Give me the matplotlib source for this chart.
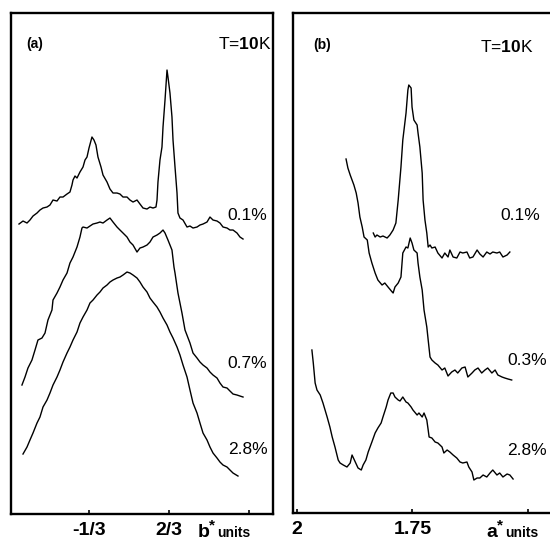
import matplotlib.pyplot as plt
from matplotlib import transforms

plt.rcParams['font.family'] = ['Liberation Sans', 'DejaVu Sans']
plt.rcParams['mathtext.fontset'] = 'custom'
plt.rcParams['mathtext.rm'] = 'Liberation Sans'
plt.rcParams['mathtext.bf'] = 'Liberation Sans:bold'

# (a) scans along b* (reciprocal lattice units), intensity in arbitrary units
a01_x = [-1.208, -1.158, -1.108, -1.071, -1.033, -0.983, -0.946, -0.908, -0.858, -0.821,
         -0.783, -0.733, -0.696, -0.658, -0.608, -0.571, -0.546, -0.533, -0.508, -0.483,
         -0.446, -0.408, -0.383, -0.358, -0.333, -0.296, -0.271, -0.246, -0.221, -0.183,
         -0.158, -0.108, -0.071, -0.033, 0.017, 0.054, 0.092, 0.142, 0.179, 0.217,
         0.267, 0.304, 0.342, 0.392, 0.429, 0.467, 0.504, 0.517, 0.529, 0.554,
         0.579, 0.592, 0.617, 0.642, 0.654, 0.679, 0.704, 0.717, 0.742, 0.767,
         0.779, 0.804, 0.842, 0.892, 0.929, 0.967, 1.017, 1.054, 1.092, 1.142,
         1.179, 1.217, 1.267, 1.304, 1.342, 1.392, 1.429, 1.467, 1.517, 1.554, 1.592]
a01_y = [58.0, 58.6, 58.2, 58.8, 59.6, 60.2, 60.8, 61.2, 61.4, 61.8,
         62.8, 62.6, 63.4, 63.4, 64.0, 64.4, 65.8, 66.8, 67.6, 67.2,
         68.4, 69.4, 70.8, 71.4, 73.2, 75.4, 74.8, 73.8, 71.4, 69.4,
         67.8, 66.4, 65.0, 64.2, 64.2, 64.0, 63.4, 63.4, 62.8, 62.4,
         62.8, 62.0, 61.2, 61.0, 61.4, 61.2, 61.4, 62.8, 66.4, 70.8,
         73.4, 77.4, 82.8, 88.8, 87.4, 84.2, 79.4, 74.8, 69.4, 64.2,
         60.2, 59.2, 58.8, 57.4, 57.6, 57.2, 57.4, 57.8, 58.0, 58.4,
         59.4, 58.8, 58.6, 58.2, 57.4, 57.2, 56.8, 56.8, 56.2, 55.4, 55.0]

a07_x = [-1.171, -1.133, -1.096, -1.046, -1.008, -0.971, -0.921, -0.883, -0.846, -0.796,
         -0.783, -0.733, -0.696, -0.658, -0.608, -0.571, -0.533, -0.483, -0.446, -0.421,
         -0.408, -0.358, -0.321, -0.283, -0.233, -0.196, -0.158, -0.108, -0.071, -0.033,
         0.017, 0.054, 0.092, 0.142, 0.179, 0.217, 0.267, 0.304, 0.342, 0.392,
         0.429, 0.467, 0.517, 0.554, 0.592, 0.617, 0.654, 0.704, 0.729, 0.742,
         0.779, 0.829, 0.867, 0.929, 0.967, 1.017, 1.054, 1.092, 1.142, 1.179,
         1.217, 1.267, 1.304, 1.342, 1.392, 1.429, 1.467, 1.517, 1.554, 1.592]
a07_y = [25.8, 27.4, 29.2, 30.8, 32.8, 34.8, 35.2, 36.2, 38.8, 40.8,
         42.8, 44.2, 45.4, 46.8, 48.2, 50.2, 51.4, 53.4, 55.4, 57.2,
         57.4, 57.2, 57.6, 58.0, 58.2, 58.4, 58.2, 58.8, 59.2, 58.4,
         57.4, 56.8, 56.2, 55.4, 54.4, 53.8, 52.4, 53.2, 53.4, 53.8,
         54.4, 55.4, 55.8, 56.2, 56.8, 56.2, 54.8, 52.8, 49.4, 48.2,
         44.2, 40.2, 36.8, 34.2, 32.2, 31.2, 30.4, 29.8, 29.2, 28.4,
         27.8, 27.2, 26.2, 25.4, 25.2, 24.6, 24.0, 23.8, 23.6, 23.4]

a28_x = [-1.158, -1.108, -1.071, -1.033, -0.983, -0.946, -0.908, -0.858, -0.821, -0.783,
         -0.733, -0.696, -0.658, -0.608, -0.571, -0.533, -0.483, -0.446, -0.408, -0.358,
         -0.321, -0.283, -0.233, -0.196, -0.158, -0.108, -0.071, -0.033, 0.017, 0.054,
         0.092, 0.142, 0.179, 0.217, 0.267, 0.304, 0.342, 0.392, 0.429, 0.467,
         0.517, 0.554, 0.592, 0.642, 0.679, 0.717, 0.767, 0.804, 0.842, 0.892,
         0.929, 0.967, 1.017, 1.054, 1.092, 1.142, 1.179, 1.217, 1.267, 1.304,
         1.342, 1.392, 1.429, 1.467, 1.529]
a28_y = [12.0, 13.4, 14.8, 16.2, 18.2, 19.4, 21.4, 22.8, 24.2, 25.8,
         27.4, 28.8, 30.4, 32.2, 33.4, 34.8, 36.4, 38.2, 39.4, 40.8,
         42.2, 42.8, 43.8, 44.4, 45.2, 45.8, 46.4, 46.8, 47.2, 47.4,
         47.8, 48.4, 48.2, 47.8, 47.2, 46.4, 45.4, 44.4, 43.2, 42.4,
         41.4, 40.4, 39.2, 37.8, 36.4, 35.2, 33.4, 31.8, 29.8, 27.4,
         24.8, 22.2, 20.2, 18.2, 16.2, 14.8, 13.4, 12.2, 11.2, 10.4,
         9.8, 9.4, 8.8, 8.2, 7.6]

# (b) scans along a*
b01_x = [1.835, 1.831, 1.827, 1.820, 1.814, 1.805, 1.799, 1.792, 1.786, 1.781,
         1.775, 1.771, 1.764, 1.760, 1.758, 1.753, 1.751, 1.747, 1.740, 1.738,
         1.734, 1.729, 1.727, 1.723, 1.719, 1.716, 1.712, 1.708, 1.701, 1.695,
         1.686, 1.680, 1.673, 1.669, 1.662, 1.654, 1.647, 1.641, 1.632, 1.626,
         1.619, 1.610, 1.604, 1.597, 1.589, 1.582, 1.576, 1.567, 1.561, 1.554,
         1.545, 1.539]
b01_y = [56.0, 55.2, 55.6, 55.2, 55.4, 55.0, 55.6, 56.6, 58.0, 62.6,
         69.2, 74.6, 80.0, 84.6, 85.6, 85.0, 81.2, 78.6, 77.6, 76.0,
         73.2, 68.0, 62.6, 58.6, 56.0, 53.2, 53.6, 53.0, 53.2, 52.0,
         51.0, 52.0, 51.2, 52.6, 51.2, 51.0, 52.2, 52.0, 52.2, 51.0,
         51.2, 52.6, 51.8, 51.2, 52.2, 51.8, 52.2, 52.0, 52.2, 51.2,
         51.6, 52.2]

b03_x = [1.894, 1.890, 1.885, 1.881, 1.877, 1.872, 1.868, 1.864, 1.859, 1.855,
         1.848, 1.844, 1.838, 1.831, 1.825, 1.816, 1.810, 1.803, 1.794, 1.792,
         1.788, 1.781, 1.775, 1.771, 1.764, 1.760, 1.755, 1.751, 1.747, 1.740,
         1.738, 1.734, 1.729, 1.725, 1.719, 1.716, 1.712, 1.708, 1.701, 1.695,
         1.686, 1.680, 1.673, 1.665, 1.658, 1.652, 1.643, 1.636, 1.630, 1.621,
         1.615, 1.608, 1.600, 1.593, 1.587, 1.578, 1.571, 1.565, 1.556, 1.550,
         1.543, 1.535]
b03_y = [70.8, 69.0, 67.6, 66.6, 65.6, 64.0, 62.0, 59.2, 57.2, 55.2,
         54.6, 52.0, 50.0, 48.0, 46.6, 45.6, 46.0, 45.2, 44.2, 44.0,
         45.2, 46.0, 47.2, 52.0, 53.2, 53.0, 55.0, 54.0, 52.6, 52.0,
         50.0, 47.2, 44.6, 40.6, 37.2, 34.6, 31.2, 30.6, 30.0, 29.6,
         28.6, 29.0, 27.4, 28.2, 28.6, 28.0, 29.0, 29.2, 27.2, 28.0,
         28.6, 29.0, 28.0, 28.6, 29.0, 28.0, 28.6, 27.6, 27.2, 27.0,
         26.8, 26.6]

b28_x = [1.968, 1.965, 1.961, 1.957, 1.950, 1.944, 1.935, 1.929, 1.924, 1.918,
         1.911, 1.907, 1.900, 1.892, 1.885, 1.881, 1.874, 1.868, 1.861, 1.857,
         1.851, 1.846, 1.838, 1.831, 1.825, 1.818, 1.814, 1.807, 1.803, 1.797,
         1.792, 1.788, 1.781, 1.777, 1.771, 1.764, 1.760, 1.753, 1.749, 1.740,
         1.736, 1.729, 1.725, 1.719, 1.716, 1.714, 1.708, 1.701, 1.695, 1.686,
         1.682, 1.675, 1.669, 1.662, 1.654, 1.647, 1.641, 1.632, 1.628, 1.621,
         1.617, 1.610, 1.604, 1.597, 1.589, 1.582, 1.576, 1.567, 1.561, 1.554,
         1.545, 1.539, 1.532]
b28_y = [32.6, 30.0, 26.0, 24.6, 23.6, 22.0, 19.2, 17.2, 15.2, 13.2,
         10.6, 10.0, 9.6, 9.2, 10.0, 11.6, 10.2, 9.0, 8.6, 9.6,
         10.6, 12.2, 14.2, 16.0, 17.0, 18.0, 19.2, 21.2, 22.6, 24.0,
         24.0, 23.2, 22.6, 22.4, 23.2, 22.2, 22.0, 21.2, 20.6, 19.6,
         20.0, 19.2, 20.0, 18.6, 16.6, 15.2, 15.0, 14.2, 14.0, 13.2,
         12.0, 12.6, 12.2, 11.6, 11.0, 10.2, 10.0, 10.2, 9.2, 8.2,
         6.6, 7.0, 7.0, 7.6, 7.2, 8.0, 8.6, 7.6, 8.0, 7.2,
         7.8, 7.6, 6.8]

a_ticks = [-1 / 3, 2 / 3, 5 / 3]
a_ticklabels = ['-1/3', '2/3', '']
b_ticks = [2.0, 1.75, 1.5]
b_ticklabels = ['2', '1.75', '']

a_labels = ['0.1%', '0.7%', '2.8%']
a_label_pos = [(1.642, 59.8), (1.642, 30.2), (1.654, 13.0)]
b_labels = ['0.1%', '0.3%', '2.8%']
b_label_pos = [(1.517, 59.6), (1.502, 30.6), (1.502, 12.6)]

fig = plt.figure(figsize=(5.5, 5.4), dpi=100)
ax1 = fig.add_axes([0.020, 0.0481, 0.4764, 0.9278])
ax2 = fig.add_axes([0.5327, 0.050, 0.4673, 0.9259])

for ax in (ax1, ax2):
    for sp in ax.spines.values():
        sp.set_linewidth(1.7)
    ax.set_yticks([])
    ax.tick_params(axis='x', direction='in', length=3, width=1.2, pad=6,
                   labelsize=14)
ax2.spines['right'].set_visible(False)

line_kw = dict(color='black', lw=1.0)

# panel (a)
ax1.plot(a01_x, a01_y, **line_kw)
ax1.plot(a07_x, a07_y, **line_kw)
ax1.plot(a28_x, a28_y, **line_kw)
ax1.set_xlim(-1.308, 1.967)
ax1.set_ylim(0, 100.2)
ax1.set_xticks(a_ticks)
ax1.set_xticklabels(a_ticklabels, fontweight='bold')
for txt, (x, y) in zip(a_labels, a_label_pos):
    ax1.text(x, y, txt, fontsize=12.5, ha='center', va='center')
ax1.text(0.092, 0.938, '(a)', transform=ax1.transAxes, fontsize=10,
         fontweight='bold', ha='center', va='center')
ax1.text(0.993, 0.938, r'T=$\mathbf{10}$K', transform=ax1.transAxes,
         fontsize=12.5, ha='right', va='center')
tr1 = transforms.blended_transform_factory(ax1.transData, ax1.transAxes)
ax1.text(1.029, -0.046, 'b', transform=tr1, fontsize=14, fontweight='bold',
         va='baseline', ha='left')
ax1.text(1.172, -0.030, '*', transform=tr1, fontsize=11, fontweight='bold',
         va='baseline', ha='left')
ax1.text(1.267, -0.046, 'units', transform=tr1, fontsize=10, fontweight='bold',
         va='baseline', ha='left')

# panel (b)
ax2.plot(b01_x, b01_y, **line_kw)
ax2.plot(b03_x, b03_y, **line_kw)
ax2.plot(b28_x, b28_y, **line_kw)
ax2.set_xlim(2.009, 1.452)
ax2.set_ylim(0, 100)
ax2.set_xticks(b_ticks)
ax2.set_xticklabels(b_ticklabels, fontweight='bold')
for txt, (x, y) in zip(b_labels, b_label_pos):
    ax2.text(x, y, txt, fontsize=12.5, ha='center', va='center')
ax2.text(0.113, 0.936, '(b)', transform=ax2.transAxes, fontsize=10,
         fontweight='bold', ha='center', va='center')
ax2.text(0.833, 0.932, r'T=$\mathbf{10}$K', transform=ax2.transAxes,
         fontsize=12.5, ha='center', va='center')
tr2 = transforms.blended_transform_factory(ax2.transData, ax2.transAxes)
ax2.text(1.589, -0.048, 'a', transform=tr2, fontsize=14, fontweight='bold',
         va='baseline', ha='left')
ax2.text(1.566, -0.032, '*', transform=tr2, fontsize=11, fontweight='bold',
         va='baseline', ha='left')
ax2.text(1.550, -0.048, 'units', transform=tr2, fontsize=10, fontweight='bold',
         va='baseline', ha='left')

fig.savefig('out.png', dpi=100)
